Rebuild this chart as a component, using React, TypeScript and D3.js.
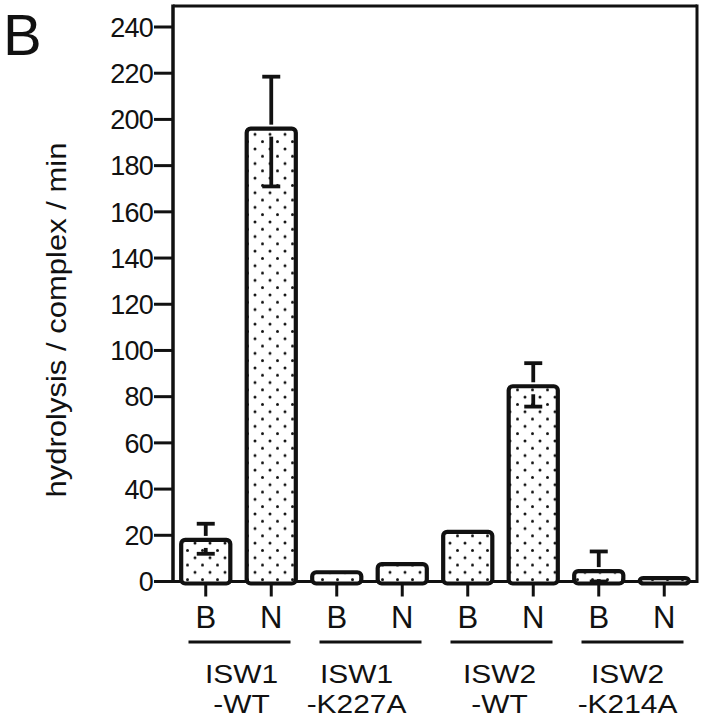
import React from "react";
import * as d3 from "d3";

const groupLine1 = ["ISW1", "ISW1", "ISW2", "ISW2"];
const groupLine2 = ["-WT", "-K227A", "-WT", "-K214A"];
const conditions = ["B", "N"];
const means = [18, 196, 4, 7.5, 21.5, 84.5, 4.5, 1.5];
const errHigh: (number | null)[] = [25, 218.5, null, null, null, 94.5, 13, null];
const errLow: (number | null)[] = [12, 171, null, null, null, 75.7, 0, null];
const yTicks = [0, 20, 40, 60, 80, 100, 120, 140, 160, 180, 200, 220, 240];
const yTitle = "hydrolysis / complex / min";
const panelLabel = "B";

const W = 704;
const H = 719;
const left = 173;
const right = 697;
const top = 6;
const zeroY = 581.5;
const yMaxY = 27;
const FONT = "'Liberation Sans', Arial, Helvetica, sans-serif";
const groupDx = [2, -14, -2, -5];

export default function App() {
  const y = d3.scaleLinear().domain([0, 240]).range([zeroY, yMaxY]);
  const idx = d3.range(means.length);
  const x = d3
    .scaleBand<number>()
    .domain(idx)
    .range([left, right])
    .paddingInner(0.25)
    .paddingOuter(0.125);
  const bw = x.bandwidth();
  const cx = (i: number) => (x(i) as number) + bw / 2;

  return (
    <div style={{ position: "absolute", left: 0, top: 0 }}>
      <svg width={W} height={H} style={{ display: "block", background: "#fff" }} fontFamily={FONT}>
        <defs>
          <pattern id="dots" patternUnits="userSpaceOnUse" width={15} height={14.6} x={left + 4} y={0}>
            <rect width={15} height={14.6} fill="#fff" />
            <circle cx={3} cy={3} r={1.5} fill="#111" />
            <circle cx={10.5} cy={10.3} r={1.5} fill="#111" />
          </pattern>
        </defs>

        {/* panel label */}
        <text x={3} y={55} fontSize={58} fill="#111">
          {panelLabel}
        </text>

        {/* frame */}
        <line x1={left} x2={left} y1={top - 1.5} y2={zeroY + 1.5} stroke="#111" strokeWidth={3.5} />
        <line x1={left} x2={right} y1={top} y2={top} stroke="#111" strokeWidth={3} />
        <line x1={right} x2={right} y1={top - 1.5} y2={zeroY + 1.5} stroke="#111" strokeWidth={3} />
        <line x1={left} x2={right} y1={zeroY} y2={zeroY} stroke="#111" strokeWidth={3} />

        {/* y ticks */}
        {yTicks.map((t) => (
          <g key={t}>
            <line x1={left - 19} x2={left} y1={y(t)} y2={y(t)} stroke="#111" strokeWidth={3} />
            <text x={left - 20} y={y(t)} dy="0.36em" textAnchor="end" fontSize={27} fill="#111" letterSpacing={-0.8}>
              {t}
            </text>
          </g>
        ))}

        {/* y title */}
        <text
          transform={`translate(66,320) rotate(-90)`}
          textAnchor="middle"
          fontSize={28}
          fill="#111"
          textLength={355}
          lengthAdjust="spacingAndGlyphs"
        >
          {yTitle}
        </text>

        {/* bars */}
        {idx.map((i) => {
          const yt = y(means[i]);
          const yb = zeroY + 2;
          return (
            <rect
              key={i}
              x={x(i) as number}
              y={yt}
              width={bw}
              height={Math.max(yb - yt, 2)}
              rx={4}
              fill="url(#dots)"
              stroke="#111"
              strokeWidth={4.2}
            />
          );
        })}

        {/* error bars */}
        {idx.map((i) => {
          const hi = errHigh[i];
          const lo = errLow[i];
          const c = cx(i);
          const ym = y(means[i]);
          return (
            <g key={"e" + i} stroke="#111" strokeWidth={3.8}>
              {hi !== null && (
                <>
                  <line x1={c} x2={c} y1={ym - 4} y2={y(hi)} />
                  <line x1={c - 9} x2={c + 9} y1={y(hi)} y2={y(hi)} />
                </>
              )}
              {lo !== null && y(lo) > ym + 8 && (
                <>
                  <line x1={c} x2={c} y1={ym + 8} y2={y(lo)} />
                  <line x1={c - 9} x2={c + 9} y1={y(lo)} y2={y(lo)} />
                </>
              )}
            </g>
          );
        })}

        {/* x ticks and condition labels */}
        {idx.map((i) => (
          <g key={"x" + i}>
            <line x1={cx(i)} x2={cx(i)} y1={zeroY + 3} y2={zeroY + 15} stroke="#111" strokeWidth={3} />
            <text x={cx(i)} y={628} textAnchor="middle" fontSize={31} fill="#111">
              {conditions[i % 2]}
            </text>
          </g>
        ))}

        {/* group underlines and labels */}
        {groupLine1.map((g, k) => {
          const gc = (cx(2 * k) + cx(2 * k + 1)) / 2 + 1;
          return (
            <g key={"g" + k}>
              <line x1={gc - 51} x2={gc + 51} y1={642} y2={642} stroke="#111" strokeWidth={3} />
              <text
                transform={`translate(${gc + groupDx[k]},683) scale(1.15,1)`}
                textAnchor="middle"
                fontSize={26}
                fill="#111"
              >
                {g}
              </text>
              <text
                transform={`translate(${gc + groupDx[k]},713) scale(1.15,1)`}
                textAnchor="middle"
                fontSize={26}
                fill="#111"
              >
                {groupLine2[k]}
              </text>
            </g>
          );
        })}
      </svg>
    </div>
  );
}
